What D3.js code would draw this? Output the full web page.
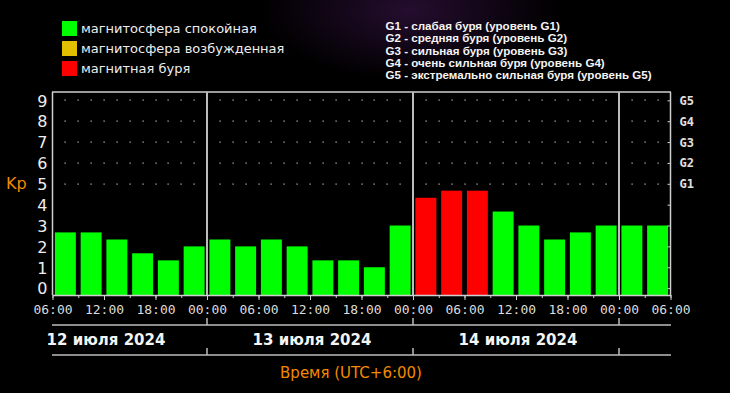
<!DOCTYPE html>
<html>
<head>
<meta charset="utf-8">
<script src="https://cdn.jsdelivr.net/npm/d3@7"></script>
<style>
  html, body { margin: 0; padding: 0; background: #000; }
  svg { display: block; }
</style>
</head>
<body>
<svg id="chart" width="730" height="393"></svg>
<script>
"use strict";

// === Data ===
const startTime = new Date(Date.UTC(2024, 6, 12, 6));
const endTime = new Date(Date.UTC(2024, 6, 15, 6));
const kpValues = [2.67, 2.67, 2.33, 1.67, 1.33, 2.0,
                  2.33, 2.0, 2.33, 2.0, 1.33, 1.33, 1.0, 3.0,
                  4.33, 4.67, 4.67, 3.67, 3.0, 2.33, 2.67, 3.0,
                  3.0, 3.0];
const kpStatus = ["quiet", "quiet", "quiet", "quiet", "quiet", "quiet",
                  "quiet", "quiet", "quiet", "quiet", "quiet", "quiet", "quiet", "quiet",
                  "storm", "storm", "storm", "quiet", "quiet", "quiet", "quiet", "quiet",
                  "quiet", "quiet"];
const dayLabels = ["12 июля 2024", "13 июля 2024", "14 июля 2024"];
const yTicks = [0, 1, 2, 3, 4, 5, 6, 7, 8, 9];
const gLevels = ["G1", "G2", "G3", "G4", "G5"];
const legendLabels = ["магнитосфера спокойная", "магнитосфера возбужденная", "магнитная буря"];
const legendKeys = ["quiet", "active", "storm"];
const gLegendLabels = [
  "G1 - слабая буря (уровень G1)",
  "G2 - средняя буря (уровень G2)",
  "G3 - сильная буря (уровень G3)",
  "G4 - очень сильная буря (уровень G4)",
  "G5 - экстремально сильная буря (уровень G5)"
];

const colors = { quiet: "#00ff00", active: "#e2c000", storm: "#ff0000" };
const orange = "#f28a00";

const svg = d3.select("#chart");

// === Background glow ===
const defs = svg.append("defs");
const glow = defs.append("radialGradient").attr("id", "glow")
  .attr("cx", 0.5).attr("cy", 0.5).attr("r", 0.5);
glow.append("stop").attr("offset", 0).attr("stop-color", "#4a1a5e").attr("stop-opacity", 0.5);
glow.append("stop").attr("offset", 1).attr("stop-color", "#4a1a5e").attr("stop-opacity", 0);
svg.append("rect").attr("width", 730).attr("height", 393).attr("fill", "#000");
svg.append("ellipse").attr("cx", 410).attr("cy", 10).attr("rx", 150).attr("ry", 70)
  .attr("fill", "url(#glow)");

// === Scales ===
const x = d3.scaleUtc().domain([startTime, endTime]).range([52.5, 670.5]);
const y = d3.scaleLinear().domain([-0.33, 9.4]).range([295, 92]);
const plotTop = y(9.4), plotBottom = y(-0.33);

// === Dotted grid (Kp 5..9, every 1.5 h) ===
const dotTimes = d3.range(1, 48).map(i => new Date(startTime.getTime() + i * 90 * 60000));
[5, 6, 7, 8, 9].forEach(v => {
  svg.append("g").selectAll("rect").data(dotTimes).join("rect")
    .attr("x", d => Math.round(x(d)) - 0.5).attr("y", Math.round(y(v)) - 0.5)
    .attr("width", 1.2).attr("height", 1.2).attr("fill", "#c8c8c8");
});

// === Bars ===
const barData = kpValues.map((v, i) => ({
  t0: d3.utcHour.offset(startTime, i * 3),
  t1: d3.utcHour.offset(startTime, i * 3 + 3),
  v: v,
  s: kpStatus[i]
}));
svg.append("g").selectAll("rect").data(barData).join("rect")
  .attr("x", d => x(d.t0) + 2.4)
  .attr("width", d => x(d.t1) - x(d.t0) - 4.8)
  .attr("y", d => y(d.v))
  .attr("height", d => plotBottom - y(d.v))
  .attr("fill", d => colors[d.s]);

// === Frame and day separators ===
const frameColor = "#cfcfcf";
svg.append("line").attr("x1", 52).attr("x2", 671).attr("y1", plotTop).attr("y2", plotTop)
  .attr("stroke", frameColor).attr("stroke-width", 1.5);
svg.append("line").attr("x1", 52.5).attr("x2", 52.5).attr("y1", plotTop).attr("y2", plotBottom)
  .attr("stroke", frameColor).attr("stroke-width", 1.5);
svg.append("line").attr("x1", 670.5).attr("x2", 670.5).attr("y1", plotTop).attr("y2", plotBottom)
  .attr("stroke", frameColor).attr("stroke-width", 1.5);
const dayBounds = d3.utcDay.range(d3.utcDay.ceil(startTime), endTime);
svg.append("g").selectAll("line").data(dayBounds).join("line")
  .attr("x1", d => x(d)).attr("x2", d => x(d))
  .attr("y1", plotTop).attr("y2", plotBottom)
  .attr("stroke", "#bdbdbd").attr("stroke-width", 2);

// === Left axis (Kp) ===
const yAxis = svg.append("g").attr("transform", "translate(52.5,0)")
  .call(d3.axisLeft(y).tickValues(yTicks).tickSize(0).tickPadding(5).tickFormat(d3.format("d")));
yAxis.select(".domain").remove();
yAxis.selectAll("text").attr("fill", "#eeeeee").attr("dy", "0.36em")
  .style("font-family", "DejaVu Sans").style("font-size", "16px");

svg.append("text").attr("x", 6).attr("y", 188.5).text("Kp")
  .attr("fill", orange).style("font-family", "DejaVu Sans").style("font-size", "16px");

// === Right axis (G levels) ===
const rAxis = svg.append("g").attr("transform", "translate(670.5,0)")
  .call(d3.axisRight(y).tickValues(yTicks).tickSize(-3).tickPadding(9)
    .tickFormat(d => d >= 5 ? gLevels[d - 5] : ""));
rAxis.select(".domain").remove();
rAxis.selectAll("line").attr("stroke", frameColor);
rAxis.selectAll("text").attr("fill", "#e0e0e0").attr("dy", "0.33em")
  .style("font-family", "DejaVu Sans Mono").style("font-weight", "bold").style("font-size", "12px");

// === Bottom time axis ===
const minorAxis = svg.append("g").attr("transform", "translate(0," + plotBottom + ")")
  .call(d3.axisBottom(x).ticks(d3.utcHour.every(3)).tickSize(3).tickSizeOuter(0).tickFormat(""));
minorAxis.select(".domain").attr("stroke", frameColor).attr("stroke-width", 1.5);
minorAxis.selectAll("line").attr("stroke", frameColor);

const majorAxis = svg.append("g").attr("transform", "translate(0," + plotBottom + ")")
  .call(d3.axisBottom(x).ticks(d3.utcHour.every(6)).tickSize(5).tickSizeOuter(0).tickPadding(5)
    .tickFormat(d3.utcFormat("%H:%M")));
majorAxis.select(".domain").remove();
majorAxis.selectAll("line").attr("stroke", frameColor);
majorAxis.selectAll("text").attr("fill", "#dcdcdc")
  .style("font-family", "DejaVu Sans Mono").style("font-size", "13px");

// === Date strip ===
[325, 355].forEach(ly => {
  svg.append("line").attr("x1", 52).attr("x2", 671).attr("y1", ly).attr("y2", ly)
    .attr("stroke", "#bdbdbd").attr("stroke-width", 1.5);
  svg.append("g").selectAll("line").data(dayBounds).join("line")
    .attr("x1", d => x(d)).attr("x2", d => x(d))
    .attr("y1", ly - 7).attr("y2", ly)
    .attr("stroke", "#bdbdbd").attr("stroke-width", 1.5);
});
const dayStarts = d3.utcDay.range(d3.utcDay.floor(startTime), d3.utcDay.floor(endTime));
svg.append("g").selectAll("text").data(dayStarts).join("text")
  .attr("x", d => x(d3.utcHour.offset(d, 12)) + 2)
  .attr("y", 345)
  .attr("text-anchor", "middle")
  .attr("fill", "#f4f4f4")
  .style("font-family", "DejaVu Sans").style("font-weight", "bold").style("font-size", "15px")
  .text((d, i) => dayLabels[i]);

svg.append("text").attr("x", 351).attr("y", 377.5).attr("text-anchor", "middle")
  .attr("fill", orange).style("font-family", "DejaVu Sans").style("font-size", "15px")
  .text("Время (UTC+6:00)");

// === Legend (status colours) ===
legendLabels.forEach((label, i) => {
  svg.append("rect").attr("x", 62).attr("y", 21 + i * 20).attr("width", 15).attr("height", 15)
    .attr("fill", colors[legendKeys[i]]);
  svg.append("text").attr("x", 81).attr("y", 33.3 + i * 20).text(label)
    .attr("fill", "#eeeeee").style("font-family", "DejaVu Sans").style("font-size", "13px");
});

// === Legend (G levels) ===
gLegendLabels.forEach((label, i) => {
  svg.append("text").attr("x", 385.5).attr("y", 30 + i * 12.3).text(label)
    .attr("fill", "#f4f4f4").style("font-family", "Liberation Sans")
    .style("font-weight", "bold").style("font-size", "11.6px");
});
</script>
</body>
</html>
